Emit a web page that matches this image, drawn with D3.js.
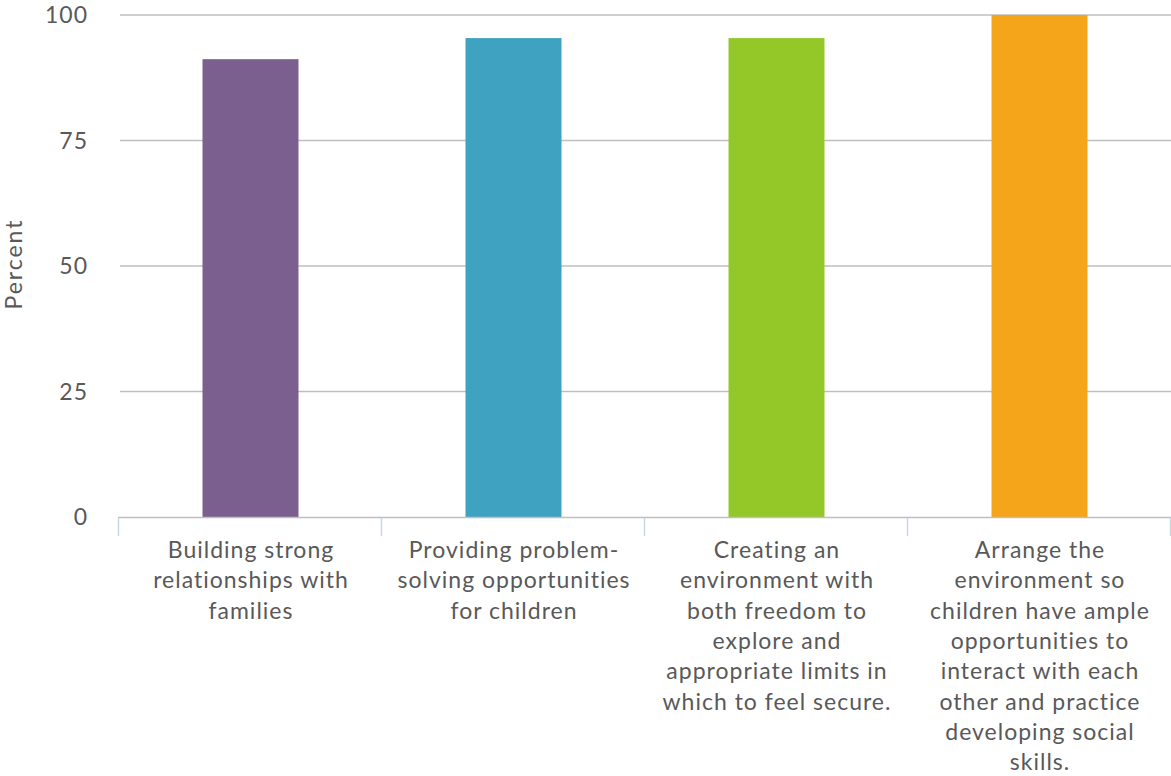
<!DOCTYPE html>
<html>
<head>
<meta charset="utf-8">
<script src="https://cdn.jsdelivr.net/npm/d3@7/dist/d3.min.js"></script>
<style>
  html, body { margin: 0; padding: 0; background: #fff; }
  svg { display: block; }
  text { font-family: Lato, "Open Sans", sans-serif; fill: #595959; }
</style>
</head>
<body>
<svg id="chart" width="1171" height="776"></svg>
<script>
const categories = [
  "Building strong relationships with families",
  "Providing problem-solving opportunities for children",
  "Creating an environment with both freedom to explore and appropriate limits in which to feel secure.",
  "Arrange the environment so children have ample opportunities to interact with each other and practice developing social skills."
];
const categoryLines = [
  ["Building strong", "relationships with", "families"],
  ["Providing problem-", "solving opportunities", "for children"],
  ["Creating an", "environment with", "both freedom to", "explore and", "appropriate limits in", "which to feel secure."],
  ["Arrange the", "environment so", "children have ample", "opportunities to", "interact with each", "other and practice", "developing social", "skills."]
];
const values = [91.2, 95.4, 95.4, 100];
const colors = ["#7B5F8E", "#3FA2C1", "#94C728", "#F4A519"];
const yTicks = [0, 25, 50, 75, 100];
const yLabel = "Percent";

const svg = d3.select("#chart");
const mLeft = 118, mRight = 1170, mTop = 15, mBottom = 517;

const x = d3.scaleBand().domain(categories).range([mLeft, mRight]).padding(0);
const y = d3.scaleLinear().domain([0, 100]).range([mBottom, mTop]);
const barW = x.bandwidth() * 0.365;

// gridlines
svg.append("g").selectAll("line").data(yTicks.filter(d => d > 0)).join("line")
  .attr("x1", mLeft + 2).attr("x2", mRight + 1)
  .attr("y1", d => y(d)).attr("y2", d => y(d))
  .attr("stroke", "#BFBFBF").attr("stroke-width", 1.5);

// y tick labels
svg.append("g").selectAll("text").data(yTicks).join("text")
  .attr("x", 88).attr("y", d => y(d))
  .attr("dy", "0.36em")
  .attr("text-anchor", "end")
  .attr("font-size", 23)
  .attr("letter-spacing", 1)
  .text(d => d);

// bars
svg.append("g").selectAll("rect").data(values).join("rect")
  .attr("x", (d, i) => x(categories[i]) + (x.bandwidth() - barW) / 2 + 1)
  .attr("width", barW)
  .attr("y", d => y(d))
  .attr("height", d => y(0) - y(d))
  .attr("fill", (d, i) => colors[i]);

// x axis line
svg.append("line")
  .attr("x1", mLeft).attr("x2", mRight + 1)
  .attr("y1", mBottom + 0.5).attr("y2", mBottom + 0.5)
  .attr("stroke", "#BFBFBF").attr("stroke-width", 1.5);

// category boundary ticks
const bounds = categories.map(c => x(c)).concat([mRight]);
svg.append("g").selectAll("line").data(bounds).join("line")
  .attr("x1", d => d + 0.5).attr("x2", d => d + 0.5)
  .attr("y1", mBottom + 1).attr("y2", mBottom + 19)
  .attr("stroke", "#C9D6E4").attr("stroke-width", 1.5);

// category labels
const lab = svg.append("g").selectAll("text").data(categories).join("text")
  .attr("text-anchor", "middle")
  .attr("font-size", 23)
  .attr("letter-spacing", 1);
lab.each(function(c, i) {
  const t = d3.select(this);
  categoryLines[i].forEach((ln, j) => {
    t.append("tspan")
      .attr("x", x(c) + x.bandwidth() / 2 + 1.5)
      .attr("y", 558 + j * 30.3)
      .text(ln);
  });
});

// y label
svg.append("text")
  .attr("transform", "translate(22,264) rotate(-90)")
  .attr("text-anchor", "middle")
  .attr("font-size", 23)
  .attr("letter-spacing", 2)
  .text(yLabel);
</script>
</body>
</html>
